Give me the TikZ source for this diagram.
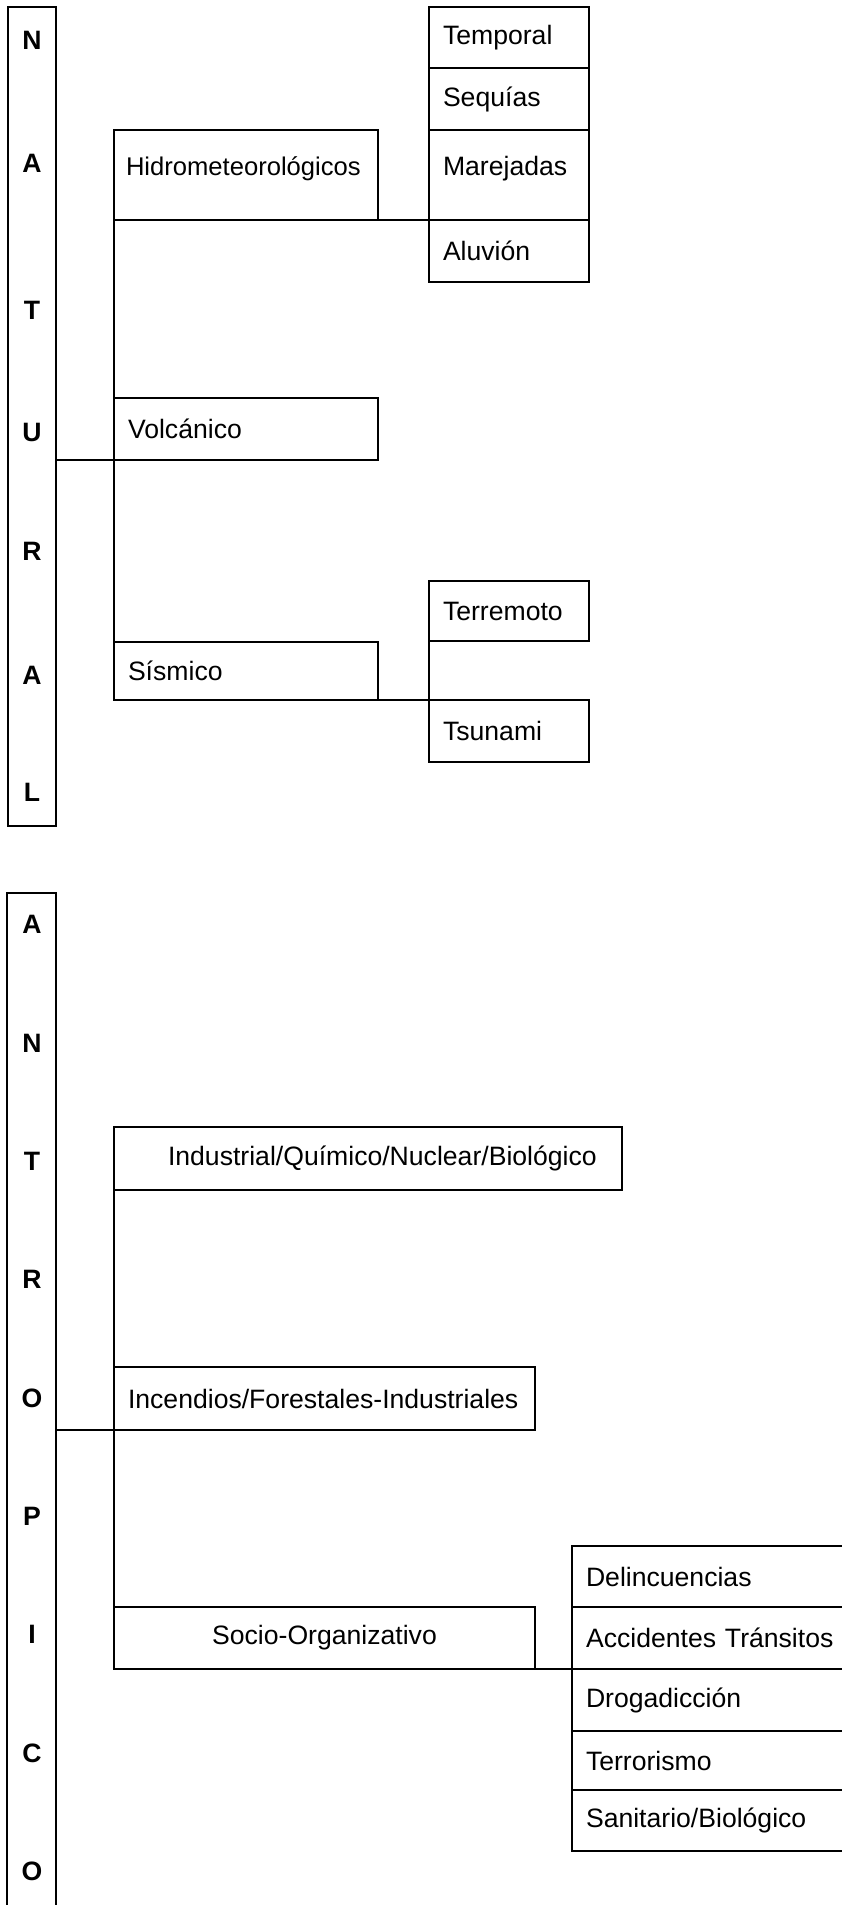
\documentclass[tikz,border=0pt]{standalone}
\usepackage{fontspec}
\setmainfont{Liberation Sans}
\usetikzlibrary{positioning}
\newcommand{\lbl}{\fontsize{13.3}{15}\selectfont}
\tikzset{
  cell/.style 2 args={draw, line width=1.4pt, outer sep=0pt, anchor=north west,
    inner xsep=7pt, text width=#1, minimum height=#2, align=left, font=\lbl},
  columna/.style 2 args={draw, line width=1.3pt, outer sep=0pt, anchor=north west,
    inner sep=0pt, minimum width=#1, minimum height=#2},
  letra/.style={font=\lbl\bfseries},
  alto/.style={text depth=9pt},
  conn/.style={line width=1.3pt},
}
\begin{document}
\begin{tikzpicture}[x=0.5pt,y=-0.5pt]
\useasboundingbox (0,0) rectangle (841,1905);

\node[columna={24pt}{409.5pt}] (nat) at (8,7) {};
\foreach \l/\y [count=\i] in {N/40,A/163,T/310,U/432,R/551,A/675,L/792}
  \node[letra] (n\i) at (32,\y) {\l};

\node[cell={120pt}{45pt}, inner xsep=6pt, alto, font=\fontsize{12.8}{14}\selectfont] (hid) at (114,130) {Hidrometeorológicos};
\node[cell={118pt}{31pt}] (vol) at (114,398) {Volcánico};
\node[cell={118pt}{29pt}] (sis) at (114,642) {Sísmico};

\node[cell={66pt}{30.5pt}] (tem) at (429,7) {Temporal};
\node[cell={66pt}{31pt}, below=0pt of tem] (seq) {Sequías};
\node[cell={66pt}{45pt}, alto, below=0pt of seq] (mar) {Marejadas};
\node[cell={66pt}{31pt}, below=0pt of mar] (alu) {Aluvión};

\node[cell={66pt}{30pt}] (terre) at (429,581) {Terremoto};
\node[cell={66pt}{31pt}] (tsu) at (429,700) {Tsunami};

\draw[conn] (nat.east |- vol.south west) -- (vol.south west);
\draw[conn] (hid.south west) -- (sis.north west);
\draw[conn] (hid.south east) -- (alu.north west);
\draw[conn] (sis.south east) -- (tsu.north west);
\draw[conn] (terre.south west) -- (tsu.north west);

\node[columna={24.5pt}{520pt}] (ant) at (7,893) {};
\foreach \l/\y [count=\i] in {A/924,N/1043,T/1161,R/1279,O/1398,P/1516,I/1634,C/1753,O/1871}
  \node[letra] (a\i) at (32,\y) {\l};

\node[cell={240pt}{31.5pt}] (ind) at (114,1127) {\hspace*{20pt}Industrial/Químico/Nuclear/Biológico};
\node[cell={196.5pt}{31.5pt}] (inc) at (114,1367) {Incendios/Forestales-Industriales};
\node[cell={196.5pt}{31pt}, align=center] (soc) at (114,1607) {Socio-Organizativo};

\node[cell={125pt}{30.5pt}] (del) at (572,1546) {Delincuencias};
\node[cell={125pt}{31pt}, below=0pt of del] (acc) {Accidentes Tránsitos};
\node[cell={125pt}{31pt}, below=0pt of acc] (dro) {Drogadicción};
\node[cell={125pt}{29.5pt}, below=0pt of dro] (terro) {Terrorismo};
\node[cell={125pt}{30.5pt}, below=0pt of terro] (san) {Sanitario/Biológico};

\draw[conn] (ant.east |- inc.south west) -- (inc.south west);
\draw[conn] (ind.south west) -- (soc.north west);
\draw[conn] (soc.south east) -- (dro.north west);
\end{tikzpicture}
\end{document}
